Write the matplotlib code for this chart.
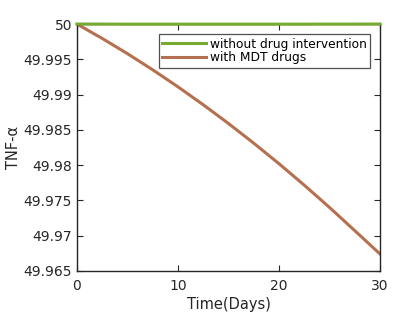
import matplotlib
matplotlib.use("Agg")
import matplotlib.pyplot as plt
from matplotlib.ticker import FuncFormatter

# values
days = [0, 2.5, 5, 7.5, 10, 12.5, 15, 17.5, 20, 22.5, 25, 27.5, 30]
tnf_no_drug = [50, 49.99999, 49.99998, 49.99998, 49.99998, 49.99998, 49.99998,
               49.99998, 49.99998, 49.99998, 49.99999, 49.99999, 50]
tnf_mdt = [50, 49.99796, 49.9958, 49.99351, 49.9911, 49.98856, 49.9859,
           49.98311, 49.9802, 49.97716, 49.974, 49.97071, 49.9674]

green = '#77AC30'
brown = '#B5704F'

fig = plt.figure(figsize=(4.2, 3.15), dpi=100)
ax = fig.add_axes([0.183, 0.1397, 0.722, 0.7841])

ax.plot(days, tnf_no_drug, color=green, lw=2.2, label='without drug intervention',
        clip_on=False, zorder=5)
ax.plot(days, tnf_mdt, color=brown, lw=2.2, label='with MDT drugs')

ax.set_xlim(0, 30)
ax.set_ylim(49.965, 50)
ax.set_xticks([0, 10, 20, 30])
ax.set_yticks([49.965, 49.97, 49.975, 49.98, 49.985, 49.99, 49.995, 50])
ax.yaxis.set_major_formatter(FuncFormatter(lambda v, p: ('%.3f' % v).rstrip('0').rstrip('.')))

for s in ax.spines.values():
    s.set_color('#262626')
    s.set_linewidth(1.0)
ax.tick_params(direction='in', top=True, right=True, length=4, width=0.8,
               colors='#262626', labelsize=10, labelcolor='#262626')
ax.tick_params(axis='x', pad=6)

ax.set_xlabel('Time(Days)', fontsize=10.5, color='#262626', labelpad=3)
ax.set_ylabel('TNF-α', fontsize=10.5, color='#262626', labelpad=2)

leg = ax.legend(loc='upper right', bbox_to_anchor=(0.967, 0.96), fontsize=8.8,
                frameon=True, fancybox=False, handlelength=3.6, handletextpad=0.25,
                borderpad=0.3, labelspacing=0.05, borderaxespad=0)
leg.get_frame().set_edgecolor('#262626')
leg.get_frame().set_linewidth(0.9)

fig.savefig('out.png', dpi=100)
